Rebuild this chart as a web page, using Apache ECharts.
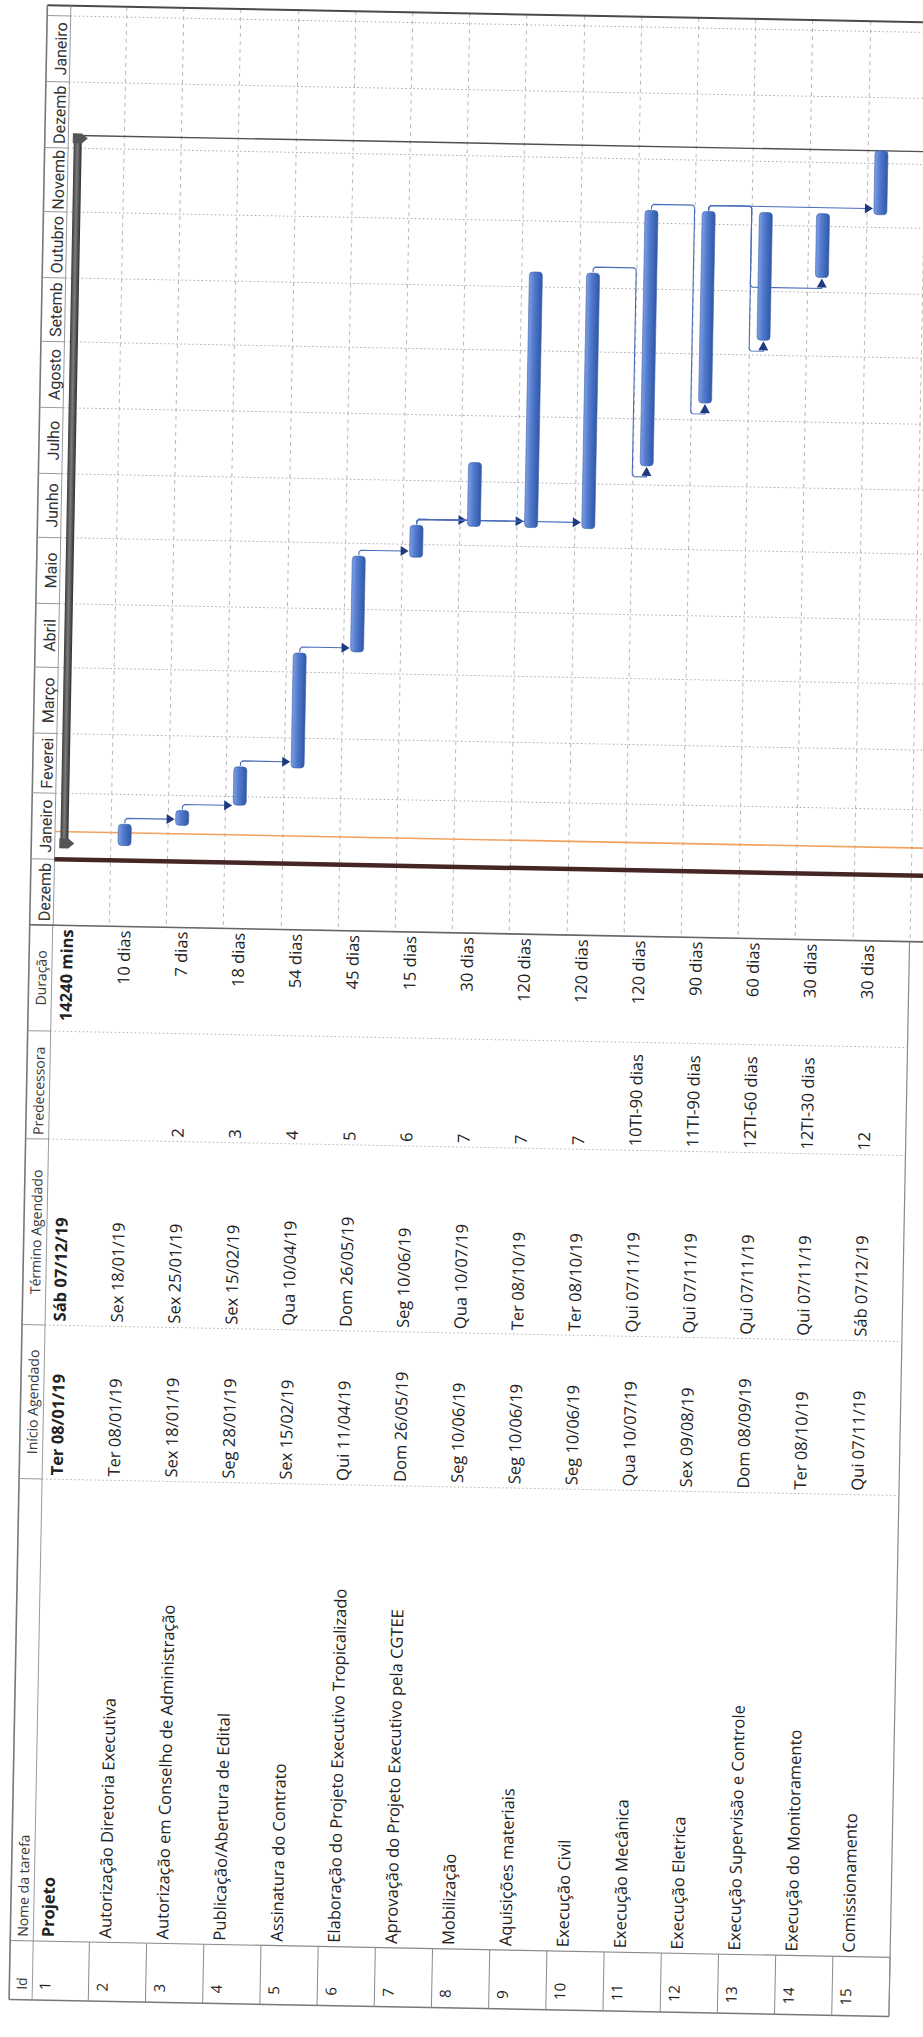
<!DOCTYPE html>
<html>
<head>
<meta charset="utf-8">
<script src="https://cdn.jsdelivr.net/npm/echarts@6/dist/echarts.min.js"></script>
<style>
html,body{margin:0;padding:0;background:#fff;overflow:hidden;width:923px;height:2037px;}
#c{width:923px;height:2037px;transform:rotate(1.1deg);transform-origin:461.5px 1018.5px;}
</style>
</head>
<body>
<div id="c"></div>
<script>
// ---------------- data ----------------
const ids = ['1','2','3','4','5','6','7','8','9','10','11','12','13','14','15'];
const taskNames = ['Projeto','Autorização Diretoria Executiva','Autorização em Conselho de Administração','Publicação/Abertura de Edital','Assinatura do Contrato','Elaboração do Projeto Executivo Tropicalizado','Aprovação do Projeto Executivo pela CGTEE','Mobilização','Aquisições materiais','Execução Civil','Execução Mecânica','Execução Eletrica','Execução Supervisão e Controle','Execução do Monitoramento','Comissionamento'];
const startDates = ['Ter 08/01/19','Ter 08/01/19','Sex 18/01/19','Seg 28/01/19','Sex 15/02/19','Qui 11/04/19','Dom 26/05/19','Seg 10/06/19','Seg 10/06/19','Seg 10/06/19','Qua 10/07/19','Sex 09/08/19','Dom 08/09/19','Ter 08/10/19','Qui 07/11/19'];
const finishDates = ['Sáb 07/12/19','Sex 18/01/19','Sex 25/01/19','Sex 15/02/19','Qua 10/04/19','Dom 26/05/19','Seg 10/06/19','Qua 10/07/19','Ter 08/10/19','Ter 08/10/19','Qui 07/11/19','Qui 07/11/19','Qui 07/11/19','Qui 07/11/19','Sáb 07/12/19'];
const predecessors = ['','','2','3','4','5','6','7','7','7','10TI-90 dias','11TI-90 dias','12TI-60 dias','12TI-30 dias','12'];
const durations = ['14240 mins','10 dias','7 dias','18 dias','54 dias','45 dias','15 dias','30 dias','120 dias','120 dias','120 dias','90 dias','60 dias','30 dias','30 dias'];
const monthLabels = ['Dezemb','Janeiro','Feverei','Março','Abril','Maio','Junho','Julho','Agosto','Setemb','Outubro','Novemb','Dezemb','Janeiro'];
const monthBounds = ['01/12/18','01/01/19','01/02/19','01/03/19','01/04/19','01/05/19','01/06/19','01/07/19','01/08/19','01/09/19','01/10/19','01/11/19','01/12/19','01/01/20','01/02/20'];
const markerDates = ['14/01/19','01/01/19'];   // current-date line, year-start line
const headers = ['Id','Nome da tarefa','Início Agendado','Término Agendado','Predecessoras','Duração'];

// ---------------- helpers ----------------
function ts(s){const m=/(\d{2})\/(\d{2})\/(\d{2})/.exec(s);return Date.UTC(2000+Number(m[3]),Number(m[2])-1,Number(m[1]));}
const AXIS_MIN = Date.UTC(2018,11,1);
const AXIS_MAX = Date.UTC(2020,1,5,19);

const LAY = {
  frameL:28, hdrX:40, hdrR:51, stripR:51.5, tableR:908, edgeR:945, monthX:42.5,
  gTop:13.5, gBottom:933, tBottom:2008,
  cols:{dur:[933,1039], pred:[1039,1147], fin:[1147,1333], st:[1333,1487], name:[1487,1949], id:[1949,2008]},
  barOff:14, sumOff:11, barW:13, sumW:8, textOff:15
};
const FONT = '"Open Sans", "DejaVu Sans", sans-serif';
const MFONT = 'Roboto, "Liberation Sans", sans-serif';

function rtext(x,y,text,align,font,fill,extra){
  const st = {text:text, font:font, fill:fill||'#222', align:align, verticalAlign:'middle'};
  if (extra) Object.assign(st, extra);
  return {type:'text', x:x, y:y, rotation:Math.PI/2, style:st};
}

// links from predecessor strings
const linkData = [];
predecessors.forEach(function(p,i){
  if(!p) return;
  const m = /^(\d+)(TI)?([+-]\d+)?/.exec(p);
  const pi = Number(m[1])-1;
  linkData.push([pi, i, ts(finishDates[pi]), ts(startDates[i]), m[3] ? 1 : 0]);
});

const monthData = monthLabels.map(function(l,k){return [0, ts(monthBounds[k]), ts(monthBounds[k+1])];});
const taskData = ids.map(function(d,i){return [i, ts(startDates[i]), ts(finishDates[i])];});
const markerData = markerDates.map(function(d,k){return [0, ts(d), k];});
const tableData = ids.map(function(d,i){return [i, 0.5];});

const blueGrad = {type:'linear',x:0,y:0,x2:1,y2:0,colorStops:[{offset:0,color:'#7f9fe2'},{offset:0.4,color:'#527bce'},{offset:1,color:'#3058a8'}]};
const grayGrad = {type:'linear',x:0,y:0,x2:1,y2:0,colorStops:[{offset:0,color:'#3a3a3a'},{offset:0.45,color:'#7c7c7c'},{offset:1,color:'#2e2e2e'}]};

// ---------------- frame (graphic) ----------------
const G = [];
function gl(x1,y1,x2,y2,stroke,w,dash,z){
  const st = {stroke:stroke, lineWidth:w};
  if (dash) st.lineDash = dash;
  G.push({type:'line', z:z||1, silent:true, shape:{x1:x1,y1:y1,x2:x2,y2:y2}, style:st});
}
G.push({type:'rect', z:1, silent:true, shape:{x:LAY.frameL, y:LAY.gTop, width:LAY.stripR-LAY.frameL, height:LAY.gBottom-LAY.gTop}, style:{fill:'#fff'}});
gl(LAY.frameL, LAY.gTop, LAY.edgeR, LAY.gTop, '#4a4a4a', 2);
gl(LAY.frameL, LAY.gTop, LAY.frameL, LAY.tBottom, '#777', 1.6);
gl(LAY.stripR, LAY.gTop, LAY.stripR, LAY.gBottom, '#9a9a9a', 1);
gl(LAY.frameL, LAY.gBottom, LAY.edgeR, LAY.gBottom, '#666', 1.6, null, 6);
gl(LAY.tableR, LAY.gBottom, LAY.tableR, LAY.tBottom, '#888', 1.2);
gl(LAY.frameL, LAY.tBottom, LAY.tableR, LAY.tBottom, '#777', 1.5);
gl(LAY.hdrR, LAY.gBottom, LAY.hdrR, LAY.tBottom, '#9a9a9a', 1);
[LAY.cols.pred[0], LAY.cols.fin[0], LAY.cols.st[0], LAY.cols.name[0]].forEach(function(y){
  gl(LAY.frameL, y, LAY.hdrR, y, '#9a9a9a', 1);
  gl(LAY.hdrR, y, LAY.tableR, y, '#b0b0b0', 1, [1.5,2.5]);
});
gl(LAY.frameL, LAY.cols.id[0], LAY.tableR, LAY.cols.id[0], '#8a8a8a', 1.2);

const HF = '14px ' + FONT;
G.push(Object.assign(rtext(LAY.hdrX, LAY.cols.id[1]-10, headers[0], 'left', HF, '#3a3a3a'), {z:6}));
G.push(Object.assign(rtext(LAY.hdrX, LAY.cols.name[1]-4, headers[1], 'left', HF, '#3a3a3a'), {z:6}));
G.push(Object.assign(rtext(LAY.hdrX, (LAY.cols.st[0]+LAY.cols.st[1])/2, headers[2], 'center', HF, '#3a3a3a'), {z:6}));
G.push(Object.assign(rtext(LAY.hdrX, (LAY.cols.fin[0]+LAY.cols.fin[1])/2, headers[3], 'center', HF, '#3a3a3a'), {z:6}));
G.push(Object.assign(rtext(LAY.hdrX, LAY.cols.pred[1]-4, headers[4], 'left', HF, '#3a3a3a', {width:94, overflow:'truncate', ellipsis:''}), {z:6}));
G.push(Object.assign(rtext(LAY.hdrX, (LAY.cols.dur[0]+LAY.cols.dur[1])/2, headers[5], 'center', HF, '#3a3a3a'), {z:6}));

// ---------------- chart ----------------
const chart = echarts.init(document.getElementById('c'), null, {renderer:'svg', width:923, height:2037});
const option = {
  animation:false,
  backgroundColor:'#ffffff',
  grid:[
    {left:50, top:LAY.gTop, width:858, height:LAY.gBottom-LAY.gTop},
    {left:50, top:LAY.gBottom, width:858, height:LAY.tBottom-LAY.gBottom}
  ],
  xAxis:[
    {type:'category', gridIndex:0, data:ids, axisLine:{show:false}, axisTick:{show:false}, axisLabel:{show:false},
     splitLine:{show:true, interval:0, lineStyle:{color:'#b8b8b8', width:1, type:[4,4]}}},
    {type:'category', gridIndex:1, data:ids, show:false}
  ],
  yAxis:[
    {type:'time', gridIndex:0, min:AXIS_MIN, max:AXIS_MAX, show:false},
    {type:'value', gridIndex:1, min:0, max:1, show:false}
  ],
  graphic:G,
  series:[
    { // timescale + month gridlines
      type:'custom', xAxisIndex:0, yAxisIndex:0, z:2, silent:true, clip:false,
      encode:{x:0, y:[1,2]}, data:monthData,
      renderItem:function(params, api){
        const y0 = api.coord([0, api.value(1)])[1];
        const y1 = api.coord([0, api.value(2)])[1];
        const ch = [
          {type:'line', shape:{x1:LAY.stripR, y1:y0, x2:LAY.edgeR, y2:y0}, style:{stroke:'#a9a9a9', lineWidth:1, lineDash:[1.5,2.5]}},
          {type:'line', shape:{x1:LAY.frameL, y1:y0, x2:LAY.stripR, y2:y0}, style:{stroke:'#9a9a9a', lineWidth:1}},
          rtext(LAY.monthX, (y0+y1)/2, monthLabels[params.dataIndex], 'center', '16px ' + MFONT, '#333')
        ];
        if (params.dataIndex === monthData.length-1) {
          ch.push({type:'line', shape:{x1:LAY.stripR, y1:y1, x2:LAY.edgeR, y2:y1}, style:{stroke:'#a9a9a9', lineWidth:1, lineDash:[1.5,2.5]}});
          ch.push({type:'line', shape:{x1:LAY.frameL, y1:y1, x2:LAY.stripR, y2:y1}, style:{stroke:'#9a9a9a', lineWidth:1}});
        }
        return {type:'group', children:ch};
      }
    },
    { // current-date and year-start lines
      type:'custom', xAxisIndex:0, yAxisIndex:0, z:3, silent:true, clip:false,
      encode:{x:0, y:1}, data:markerData,
      renderItem:function(params, api){
        const y = api.coord([0, api.value(1)])[1];
        const k = api.value(2);
        return {type:'line', shape:{x1:LAY.stripR, y1:y, x2:LAY.edgeR, y2:y},
          style: k === 0 ? {stroke:'#f2a25e', lineWidth:1.6} : {stroke:'#472525', lineWidth:4.5}};
      }
    },
    { // dependency links
      type:'custom', xAxisIndex:0, yAxisIndex:0, z:4, silent:true, clip:false,
      encode:{x:[0,1], y:[2,3]}, data:linkData,
      renderItem:function(params, api){
        const band = api.size([1,0])[0];
        const pf = api.coord([api.value(0), api.value(2)]);
        const ss = api.coord([api.value(1), api.value(3)]);
        const px = pf[0] - band/2 + LAY.barOff;
        const sx = ss[0] - band/2 + LAY.barOff;
        const hw = LAY.barW/2;
        const yH = pf[1] - 6;
        const lc = {stroke:'#4a6dbb', lineWidth:1.1, fill:null};
        const ac = {fill:'#1f3a80'};
        if (!api.value(4)) {
          const ax = sx - hw - 1;
          return {type:'group', children:[
            {type:'polyline', shape:{points:[[px, pf[1]-1],[px, yH+2],[px+2, yH],[ax-7, yH]]}, style:lc},
            {type:'polygon', shape:{points:[[ax-8, yH-5],[ax, yH],[ax-8, yH+5]]}, style:ac}
          ]};
        }
        const vx = px + 43;
        const yB = ss[1] + 11;
        return {type:'group', children:[
          {type:'polyline', shape:{points:[[px, pf[1]-1],[px, yH+2],[px+2, yH],[vx-2, yH],[vx, yH+2],[vx, yB-2],[vx+2, yB],[sx, yB],[sx, yB-2]]}, style:lc},
          {type:'polygon', shape:{points:[[sx-5, yB-1],[sx, ss[1]+1],[sx+5, yB-1]]}, style:ac}
        ]};
      }
    },
    { // task bars
      type:'custom', xAxisIndex:0, yAxisIndex:0, z:5, silent:true, clip:false,
      encode:{x:0, y:[1,2]}, data:taskData,
      renderItem:function(params, api){
        const i = api.value(0);
        const pS = api.coord([i, api.value(1)]);
        const pF = api.coord([i, api.value(2)]);
        const band = api.size([1,0])[0];
        const left = pS[0] - band/2;
        const yT = pF[1], yB = pS[1];
        if (i === 0) {
          const cx = left + LAY.sumOff, w = LAY.sumW;
          return {type:'group', children:[
            {type:'line', shape:{x1:cx, y1:yT, x2:LAY.edgeR, y2:yT}, style:{stroke:'#4f4f4f', lineWidth:1.4}},
            {type:'rect', shape:{x:cx-w/2, y:yT, width:w, height:yB-yT}, style:{fill:grayGrad}},
            {type:'polygon', shape:{points:[[cx-w/2-1,yT-2],[cx+4,yT-2],[cx+10,yT+3],[cx+4,yT+8],[cx-w/2-1,yT+8]]}, style:{fill:'#555'}},
            {type:'polygon', shape:{points:[[cx-w/2-1,yB+4],[cx+4,yB+4],[cx+10,yB-1],[cx+4,yB-6],[cx-w/2-1,yB-6]]}, style:{fill:'#555'}}
          ]};
        }
        const cx = left + LAY.barOff, w = LAY.barW;
        return {type:'rect', shape:{x:cx-w/2, y:yT, width:w, height:yB-yT, r:3.5},
          style:{fill:blueGrad, stroke:'#3a60ad', lineWidth:0.6}};
      }
    },
    { // table rows
      type:'custom', xAxisIndex:1, yAxisIndex:1, z:5, silent:true, clip:false,
      encode:{x:0, y:1}, data:tableData,
      renderItem:function(params, api){
        const i = api.value(0);
        const c = api.coord([i, 0.5]);
        const band = api.size([1,0])[0];
        const left = c[0] - band/2;
        const x = left + LAY.textOff;
        const bold = i === 0;
        const F = (bold ? 'bold ' : '') + '16.5px ' + FONT;
        const ch = [
          rtext(x, LAY.cols.dur[0]+4, durations[i], 'right', F),
          rtext(x, LAY.cols.fin[1]-4, finishDates[i], 'left', F),
          rtext(x, LAY.cols.st[1]-4, startDates[i], 'left', F),
          rtext(x, LAY.cols.name[1]-4, taskNames[i], 'left', F),
          rtext(left+13, LAY.cols.id[1]-10, ids[i], 'left', '15px ' + FONT)
        ];
        if (predecessors[i]) ch.push(rtext(x, LAY.cols.pred[1]-4, predecessors[i], 'left', F, '#222', {width:100, overflow:'truncate', ellipsis:''}));
        ch.push({type:'line', shape:{x1:left+band, y1:LAY.cols.id[0], x2:left+band, y2:LAY.cols.id[1]}, style:{stroke:'#8a8a8a', lineWidth:1}});
        return {type:'group', children:ch};
      }
    }
  ]
};
chart.setOption(option);
</script>
</body>
</html>
